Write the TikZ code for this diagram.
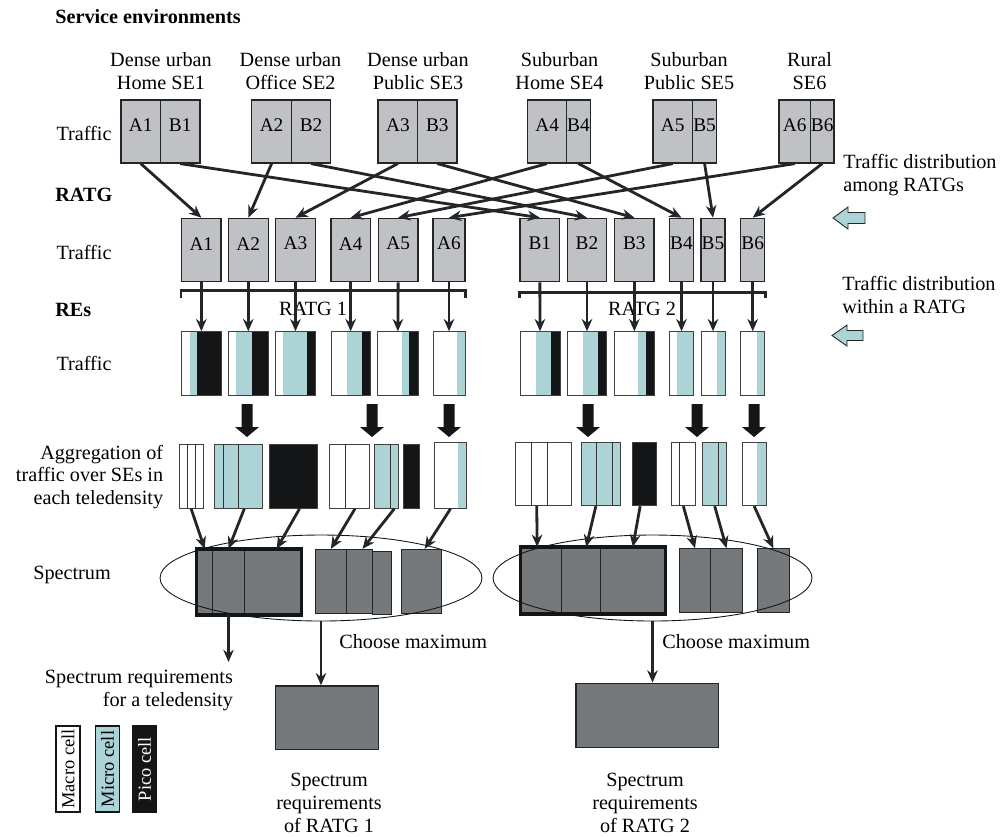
\documentclass[tikz,border=0pt]{standalone}
\usepackage{fontspec}
\setmainfont{Liberation Serif}
\usepackage{tikz}
\usetikzlibrary{shapes.geometric, arrows.meta, positioning, calc, fit}
\definecolor{boxgray}{RGB}{192,193,196}
\definecolor{specgray}{RGB}{117,121,124}
\definecolor{microcyan}{RGB}{172,211,214}
\definecolor{picoblack}{RGB}{20,21,23}
\definecolor{linedark}{RGB}{35,38,40}
\tikzset{
  cellbox/.style={rectangle, draw=linedark, fill=boxgray, inner sep=0pt,
    line width=0.7pt, font=\fontsize{11}{12}\selectfont},
  bar/.style={rectangle, draw=black!75, inner sep=0pt, line width=0.5pt},
  specbox/.style={rectangle, draw=linedark, fill=specgray, inner sep=0pt, line width=0.5pt},
  thickframe/.style={rectangle, draw=picoblack, inner sep=0pt, line width=2pt},
  divider/.style={draw=black!80, line width=0.5pt},
  conn/.style={-{Stealth[length=7pt, width=6pt]}, line width=1.6pt, draw=linedark},
  bracket/.style={line width=1.6pt, draw=linedark},
  region/.style={ellipse, draw=picoblack, line width=0.5pt, inner sep=0pt},
  txt/.style={align=center, inner sep=0pt},
  head/.style={font=\fontsize{11.5}{13}\selectfont\bfseries, anchor=west, inner sep=0pt},
  legend/.style={rectangle, draw=picoblack, line width=0.6pt, rotate=90,
    minimum width=1.72cm, minimum height=0.48cm, inner sep=0pt,
    font=\fontsize{10.5}{12}\selectfont},
  cyanarrow/.style={fill=microcyan, draw=linedark, line width=0.5pt},
  blockarrow/.style={fill=picoblack}
}
% box of given corners with a label
\newcommand{\cellnode}[6]{\node[cellbox, fit={(#2,#4) (#3,#5)}] (#1) {#6};}
% white / micro / pico bar: name, x0, x1, x2, x3, y0, y1
\newcommand{\rebar}[7]{%
  \fill[white] (#2,#6) rectangle (#3,#7);
  \fill[microcyan] (#3,#6) rectangle (#4,#7);
  \fill[picoblack] (#4,#6) rectangle (#5,#7);
  \node[bar, fit={(#2,#6) (#5,#7)}] (#1) {};}
% aggregated bar: name, fill, x0, x1, y0, y1, dividers
\newcommand{\aggbar}[7]{%
  \node[bar, fill=#2, fit={(#3,#5) (#4,#6)}] (#1) {};
  \foreach \d in {#7} {\draw[divider] (\d,#5) -- (\d,#6);}}
\newcommand{\specnode}[5]{\node[specbox, fit={(#2,#4) (#3,#5)}] (#1) {};}

\begin{document}
\begin{tikzpicture}[x=0.02cm, y=-0.02cm, font=\fontsize{11.5}{13}\selectfont]
  \useasboundingbox (0,0) rectangle (1003,836);

  % row labels
  \node[head] (sehead) at (55,17) {Service environments};
  \node[head] (ratghead) at (55,195) {RATG};
  \node[head] (rehead) at (55,310) {REs};
  \node[txt] (traf1) at (84,133) {Traffic};
  \node[txt] (traf2) at (84,252) {Traffic};
  \node[txt] (traf3) at (84,363) {Traffic};
  \node[txt, anchor=east, align=right] (agglabel) at (163.5,477)
    {Aggregation of\\traffic over SEs in\\each teledensity};
  \node[txt] (speclabel) at (72,575) {Spectrum};

  % service environments
  \node[txt] (se1) at (161,71) {Dense urban\\Home SE1};
  \node[txt] (se2) at (290.5,71) {Dense urban\\Office SE2};
  \node[txt] (se3) at (418,71) {Dense urban\\Public SE3};
  \node[txt] (se4) at (559.5,71) {Suburban\\Home SE4};
  \node[txt] (se5) at (689,71) {Suburban\\Public SE5};
  \node[txt] (se6) at (809.5,71) {Rural\\SE6};

  \cellnode{sa1}{121}{160.5}{100}{163}{A1}
  \cellnode{sb1}{160.5}{200}{100}{163}{B1}
  \cellnode{sa2}{251.7}{291.5}{100}{163}{A2}
  \cellnode{sb2}{291.5}{330.7}{100}{163}{B2}
  \cellnode{sa3}{378}{417.7}{100}{163}{A3}
  \cellnode{sb3}{417.7}{457}{100}{163}{B3}
  \cellnode{sa4}{527.7}{566.5}{100}{163}{A4}
  \cellnode{sb4}{566.5}{590.3}{100}{163}{B4}
  \cellnode{sa5}{653}{692.5}{100}{163}{A5}
  \cellnode{sb5}{692.5}{716.7}{100}{163}{B5}
  \cellnode{sa6}{779}{810.5}{100}{163}{A6}
  \cellnode{sb6}{810.5}{834}{100}{163}{B6}

  % traffic per RATG
  \cellnode{ra1}{181.7}{221}{218.3}{281.7}{A1}
  \cellnode{ra2}{228.3}{268.3}{218.3}{281.7}{A2}
  \cellnode{ra3}{275.7}{315.3}{218.3}{281.7}{A3}
  \cellnode{ra4}{331}{370.3}{218.3}{281.7}{A4}
  \cellnode{ra5}{378.3}{418}{218.3}{281.7}{A5}
  \cellnode{ra6}{433}{465}{218.3}{281.7}{A6}
  \cellnode{rb1}{520}{559.7}{218.3}{281.7}{B1}
  \cellnode{rb2}{567.3}{606.7}{218.3}{281.7}{B2}
  \cellnode{rb3}{614.7}{654}{218.3}{281.7}{B3}
  \cellnode{rb4}{669.7}{693.3}{218.3}{281.7}{B4}
  \cellnode{rb5}{701}{725}{218.3}{281.7}{B5}
  \cellnode{rb6}{740.7}{764.7}{218.3}{281.7}{B6}

  \draw[bracket] ($(ra1.south west)+(0,16)$) -- ($(ra1.south west)+(0,8)$)
    -- ($(ra6.south east)+(0,8)$) -- ($(ra6.south east)+(0,16)$);
  \draw[bracket] ($(rb1.south west)+(0,16)$) -- ($(rb1.south west)+(0,10)$)
    -- ($(rb6.south east)+(0,10)$) -- ($(rb6.south east)+(0,16)$);
  \node[txt] (ratg1) at (313,309) {RATG 1};
  \node[txt] (ratg2) at (642,309) {RATG 2};

  % traffic per RE
  \rebar{ea1}{181.7}{190}{196.7}{221}{331.7}{395}
  \rebar{ea2}{228.3}{236}{251.7}{268.3}{331.7}{395}
  \rebar{ea3}{275.7}{283.3}{307}{315.3}{331.7}{395}
  \rebar{ea4}{331}{346.7}{362}{370.3}{331.7}{395}
  \rebar{ea5}{377.7}{401.7}{409}{418}{331.7}{395}
  \rebar{ea6}{433}{456.7}{465}{465}{331.7}{395}
  \rebar{eb1}{520}{535.7}{551}{560}{331.7}{395}
  \rebar{eb2}{567.3}{583.3}{598.3}{606.7}{331.7}{395}
  \rebar{eb3}{614.7}{638.3}{645.7}{654}{331.7}{395}
  \rebar{eb4}{669.7}{677}{693.3}{693.3}{331.7}{395}
  \rebar{eb5}{701}{716.7}{725}{725}{331.7}{395}
  \rebar{eb6}{740.7}{756.7}{764.7}{764.7}{331.7}{395}

  \foreach \i in {1,...,6} {
    \draw[conn] (sa\i.south) -- (ra\i.north);
    \draw[conn] (sb\i.south) -- (rb\i.north);
    \draw[conn] (ra\i.south) -- (ea\i.north);
    \draw[conn] (rb\i.south) -- (eb\i.north);
  }

  % aggregation arrows
  \foreach \x in {247,372,449,588,697,754}
    \fill[blockarrow] (\x-5.5,404) -- (\x+5.5,404) -- (\x+5.5,427) -- (\x+12,427)
      -- (\x,437) -- (\x-12,427) -- (\x-5.5,427) -- cycle;

  % aggregated traffic
  \aggbar{g1}{white}{179}{203.3}{444}{508.3}{187.3,195.7}
  \aggbar{g2}{microcyan}{214.3}{262.3}{444}{508.3}{223.3,238.3}
  \node[bar, fill=picoblack, fit={(269.3,444) (317.7,508.3)}] (g3) {};
  \aggbar{g4}{white}{329}{369}{444}{508.3}{345}
  \aggbar{g5}{microcyan}{374.3}{398.3}{444}{508.3}{390}
  \node[bar, fill=picoblack, fit={(403.3,444) (419.3,508.3)}] (g6) {};
  \rebar{g7}{434.3}{458.3}{466.7}{466.7}{442.7}{508.3}
  \aggbar{h1}{white}{515.7}{571.7}{442.3}{505.7}{531.7,547.3}
  \aggbar{h2}{microcyan}{581}{620.7}{442.3}{505.7}{596.7,612.3}
  \node[bar, fill=picoblack, fit={(632.3,442.3) (656,505.7)}] (h3) {};
  \aggbar{h4}{white}{671.7}{695}{442.3}{505.7}{679}
  \aggbar{h5}{microcyan}{702.7}{726.7}{442.3}{505.7}{718.7}
  \rebar{h6}{742.3}{757.3}{766}{766}{442.3}{505.7}

  % spectrum
  \specnode{s1a}{196.7}{212.7}{549.3}{614.3}
  \specnode{s1b}{212.7}{244.3}{549.3}{614.3}
  \specnode{s1c}{244.3}{301}{549.3}{614.3}
  \node[thickframe, fit=(s1a)(s1c)] (sp1) {};
  \specnode{s2a}{315}{346.7}{549.3}{613.7}
  \specnode{s2b}{346.7}{372.3}{549.3}{613.7}
  \specnode{s2c}{372.3}{391.7}{551}{614.3}
  \specnode{s3}{401.7}{441.7}{549.3}{613.7}
  \specnode{t1a}{520.7}{561.7}{547.3}{613.3}
  \specnode{t1b}{561.7}{600.7}{547.3}{613.3}
  \specnode{t1c}{600.7}{665}{547.3}{613.3}
  \node[thickframe, fit=(t1a)(t1c)] (sp2) {};
  \specnode{t2a}{679.3}{710.7}{548.7}{612}
  \specnode{t2b}{710.7}{742.3}{548.7}{612}
  \specnode{t3}{757.3}{789.3}{548.7}{612}

  \node[region, minimum width=6.44cm, minimum height=1.72cm] (ell1) at (321,578) {};
  \node[region, minimum width=6.38cm, minimum height=1.72cm] (ell2) at (652.5,578) {};

  \draw[conn] (g1.south) -- (s1a.north);
  \draw[conn] ($(g2.south)+(6,0)$) -- (s1b.north);
  \draw[conn] ($(g3.south)+(6,0)$) -- ($(s1c.north)+(4,0)$);
  \draw[conn] ($(g4.south)+(6,0)$) -- (s2a.north);
  \draw[conn] ($(g5.south)+(8,0)$) -- ($(s2b.north)+(3,0)$);
  \draw[conn] (g7.south) -- ($(s3.north)+(3,0)$);
  \draw[conn] ($(h1.south)+(-7,0)$) -- ($(t1a.north)+(-4,0)$);
  \draw[conn] ($(h2.south)+(-5,0)$) -- ($(t1b.north)+(5,0)$);
  \draw[conn] ($(h3.south)+(-4,0)$) -- (t1c.north);
  \draw[conn] (h4.south) -- (t2a.north);
  \draw[conn] (h5.south) -- (t2b.north);
  \draw[conn] (h6.south) -- (t3.north);

  % requirements
  \coordinate (tdend) at (228.5,662);
  \draw[conn] (s1b.south) -- (tdend);
  \node[txt, anchor=north east, align=right] (tdlabel) at (233.3,670)
    {Spectrum requirements\\for a teledensity};

  \node[specbox, line width=0.8pt, fit={(275.7,686) (378.3,749.3)}] (req1) {};
  \node[specbox, line width=0.8pt, fit={(576,683.3) (718.3,747.7)}] (req2) {};
  \draw[conn] (ell1.south) -- (ell1.south |- req1.north);
  \draw[conn] (ell2.south) -- (ell2.south |- req2.north);
  \node[txt, anchor=west] (max1) at (339,642) {Choose maximum};
  \node[txt, anchor=west] (max2) at (662,642) {Choose maximum};
  \node[txt] (req1label) at (329,803) {Spectrum\\requirements\\of RATG 1};
  \node[txt] (req2label) at (645,803) {Spectrum\\requirements\\of RATG 2};

  % distribution hints
  \node[txt, anchor=west, align=left] (hint1) at (843,175) {Traffic distribution\\among RATGs};
  \node[txt, anchor=west, align=left] (hint2) at (842,295) {Traffic distribution\\within a RATG};
  \draw[cyanarrow] (833,218) -- (848,207) -- (848,212.5) -- (865,212.5) -- (865,223.5)
    -- (848,223.5) -- (848,229) -- cycle;
  \draw[cyanarrow] (832,335.5) -- (847,325) -- (847,330.5) -- (863,330.5) -- (863,340.5)
    -- (847,340.5) -- (847,346) -- cycle;

  % legend
  \node[legend, fill=white] (macro) at (68,769) {Macro cell};
  \node[legend, fill=microcyan] (micro) at (107.5,769) {Micro cell};
  \node[legend, fill=picoblack, text=white] (pico) at (144.5,769) {Pico cell};
\end{tikzpicture}
\end{document}
